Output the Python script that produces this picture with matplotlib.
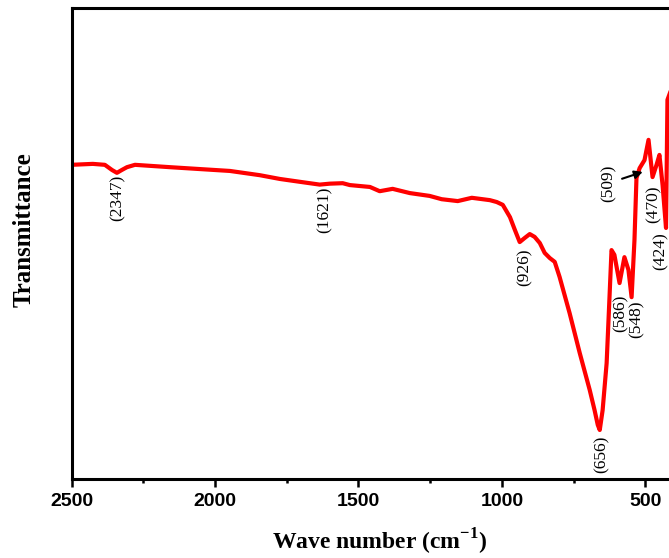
import matplotlib
matplotlib.use('Agg')
from matplotlib import pyplot

# FTIR spectrum
wavenumber = [2501, 2426, 2384, 2359, 2342, 2325, 2307, 2279, 2157, 2053,
              1948, 1844, 1774, 1705, 1635, 1600, 1555, 1530, 1460, 1426,
              1381, 1321, 1252, 1210, 1154, 1105, 1042, 1018, 997, 972,
              955, 938, 920, 903, 886, 868, 851, 833, 816, 799,
              764, 729, 694, 677, 666, 659, 649, 635, 625, 618,
              608, 590, 573, 559, 548, 538, 531, 520, 503, 489,
              475, 461, 451, 440, 428, 423, 414]
transmittance = [66.7, 66.9, 66.7, 65.6, 65.0, 65.6, 66.2, 66.7, 66.2, 65.8,
                 65.4, 64.5, 63.7, 63.1, 62.5, 62.7, 62.8, 62.4, 62.0, 61.1,
                 61.6, 60.7, 60.1, 59.4, 59.0, 59.7, 59.2, 58.8, 58.2, 55.6,
                 52.9, 50.3, 51.2, 52.0, 51.4, 50.1, 48.0, 46.9, 46.1, 42.9,
                 35.2, 26.8, 18.9, 14.6, 11.5, 10.4, 14.6, 24.6, 38.6, 48.6,
                 47.6, 41.6, 47.1, 44.4, 38.6, 50.7, 63.9, 66.0, 67.7, 72.0,
                 64.1, 66.7, 68.8, 62.4, 53.3, 80.5, 82.0]

# band labels and where their text sits (x in cm-1, y = top of text)
peak_labels = ['(2347)', '(1621)', '(926)', '(656)', '(586)', '(548)', '(470)', '(424)']
label_pos = [(2340, 64.5), (1618, 62.0), (920, 49.0), (654, 9.3),
             (586, 39.1), (530, 38.0), (470, 62.4), (446, 52.4)]

fig = pyplot.figure(figsize=(6.69, 5.58), dpi=100)
ax = fig.add_axes([0.107, 0.1416, 0.922, 0.8441])

ax.plot(wavenumber, transmittance, color='#ff0000', lw=3, zorder=2)

ax.set_xlim(2500, 350)
ax.set_ylim(0, 100)

for txt, (x, y) in zip(peak_labels, label_pos):
    ax.text(x, y, txt, rotation=90, ha='center', va='top',
            family='Liberation Serif', fontsize=12.5)

# 509 band marked with an arrow
ax.annotate('(509)', xy=(509, 65.2), xytext=(628, 62.8), rotation=90,
            ha='center', va='center', family='Liberation Serif', fontsize=12.5,
            arrowprops=dict(arrowstyle='-|>', color='black', lw=1.5,
                            mutation_scale=12, shrinkA=2, shrinkB=0))

# axes styling
for side in ['left', 'bottom', 'top']:
    ax.spines[side].set_linewidth(2.2)
ax.spines['right'].set_visible(False)
ax.set_yticks([])
ax.set_xticks([2500, 2000, 1500, 1000, 500])
ax.set_xticks([2250, 1750, 1250, 750], minor=True)
ax.tick_params(axis='x', which='major', length=6, width=1.8, direction='out', pad=4)
ax.tick_params(axis='x', which='minor', length=3, width=1.8, direction='out')
for lab in ax.get_xticklabels():
    lab.set_family('Liberation Sans')
    lab.set_fontweight('bold')
    lab.set_fontsize(14)

ax.set_xlabel('Wave number (cm$^{\\mathregular{-1}}$)', family='Liberation Serif',
              fontweight='bold', fontsize=17, labelpad=12)
ax.set_ylabel('Transmittance', family='Liberation Serif', fontweight='bold',
              fontsize=18, labelpad=24)
ax.yaxis.set_label_coords(-0.058, 0.53)

fig.savefig('out.png', dpi=100)
